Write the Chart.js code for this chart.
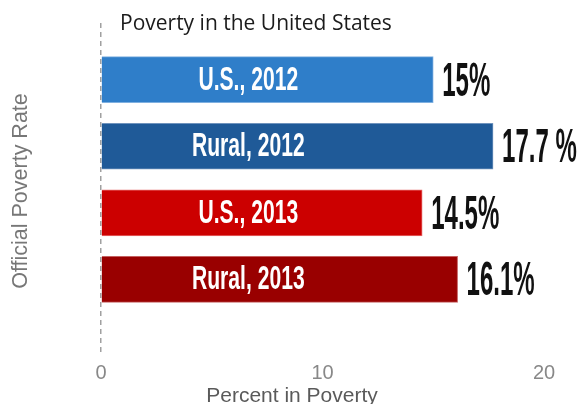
<!DOCTYPE html>
<html>
<head>
<meta charset="utf-8">
<script src="https://cdn.jsdelivr.net/npm/chart.js@4"></script>
<style>
  html, body { margin: 0; padding: 0; background: #ffffff; }
  #wrap { width: 581px; height: 404px; position: relative; }
</style>
</head>
<body>
<div id="wrap"><canvas id="c"></canvas></div>
<script>
// ---- data ----
const categories = ["U.S., 2012", "Rural, 2012", "U.S., 2013", "Rural, 2013"];
const povertyRates = [15, 17.7, 14.5, 16.1];
const valueLabels = ["15%", "17.7 %", "14.5%", "16.1%"];
const xTicks = [0, 10, 20];
const chartTitle = "Poverty in the United States";
const xTitle = "Percent in Poverty";
const yTitle = "Official Poverty Rate";

const barColors = ["#2f7ec9", "#1f5a98", "#cc0000", "#990000"];
const barBorders = ["#7fb0e0", "#6f93bd", "#e86a6a", "#c46060"];

const points = povertyRates.map((v, i) => ({ x: v, y: i }));

function condensedText(ctx, text, x, y, font, sx, align) {
  ctx.save();
  ctx.font = font;
  const w = ctx.measureText(text).width * sx;
  let left = x;
  if (align === 'center') left = x - w / 2;
  ctx.translate(left, y);
  ctx.scale(sx, 1);
  ctx.textAlign = 'left';
  ctx.textBaseline = 'alphabetic';
  ctx.fillText(text, 0, 0);
  ctx.restore();
}

const labelPlugin = {
  id: 'labels',
  afterDatasetsDraw(chart) {
    const ctx = chart.ctx;
    const meta = chart.getDatasetMeta(0);
    const xs = chart.scales.x;
    meta.data.forEach((bar, i) => {
      const cy = bar.y;
      ctx.fillStyle = '#ffffff';
      condensedText(ctx, categories[i], xs.getPixelForValue(6.65), cy + 10,
        'bold 33px "Liberation Sans", Arial, sans-serif', 0.64, 'center');
      ctx.fillStyle = '#111111';
      condensedText(ctx, valueLabels[i], bar.x + 9, cy + 16,
        'bold 49px "Liberation Sans", Arial, sans-serif', 0.49, 'left');
    });
  },
  afterDraw(chart) {
    const ctx = chart.ctx;
    ctx.save();
    ctx.fillStyle = '#1b1b1b';
    ctx.font = '21px "Open Sans", "Liberation Sans", sans-serif';
    ctx.textAlign = 'left';
    ctx.textBaseline = 'alphabetic';
    ctx.fillText(chartTitle, 120, 30);

    ctx.fillStyle = '#5a5a5a';
    ctx.font = '21px "Liberation Sans", Arial, sans-serif';
    ctx.textAlign = 'center';
    ctx.fillText(xTitle, 292, 402);

    ctx.fillStyle = '#777777';
    ctx.font = '21.5px "Liberation Sans", Arial, sans-serif';
    ctx.translate(27, 191);
    ctx.rotate(-Math.PI / 2);
    ctx.textAlign = 'center';
    ctx.fillText(yTitle, 0, 0);
    ctx.restore();
  }
};

new Chart(document.getElementById('c'), {
  type: 'bar',
  data: {
    datasets: [{
      data: points,
      backgroundColor: barColors,
      borderColor: barBorders,
      borderWidth: 1,
      barThickness: 46
    }]
  },
  options: {
    indexAxis: 'y',
    responsive: true,
    maintainAspectRatio: false,
    animation: false,
    layout: { padding: { left: 101, right: 37, top: 23, bottom: 14 } },
    plugins: {
      legend: { display: false },
      tooltip: { enabled: false },
      title: { display: false }
    },
    scales: {
      x: {
        type: 'linear',
        min: 0,
        max: 20,
        afterBuildTicks(scale) { scale.ticks = xTicks.map(v => ({ value: v })); },
        grid: {
          display: true,
          drawTicks: false,
          drawOnChartArea: true,
          lineWidth: 1.5,
          color: (c) => (c.tick && c.tick.value === 0 ? '#a0a0a0' : 'rgba(0,0,0,0)')
        },
        border: { display: false, dash: [5, 4] },
        ticks: {
          color: '#888888',
          padding: 5,
          font: { family: '"Liberation Sans", Arial, sans-serif', size: 20 }
        }
      },
      y: {
        type: 'linear',
        min: -0.85,
        max: 4.15,
        reverse: true,
        offset: false,
        grid: { display: false, drawTicks: false },
        border: { display: false },
        ticks: { display: false }
      }
    }
  },
  plugins: [labelPlugin]
});
</script>
</body>
</html>
